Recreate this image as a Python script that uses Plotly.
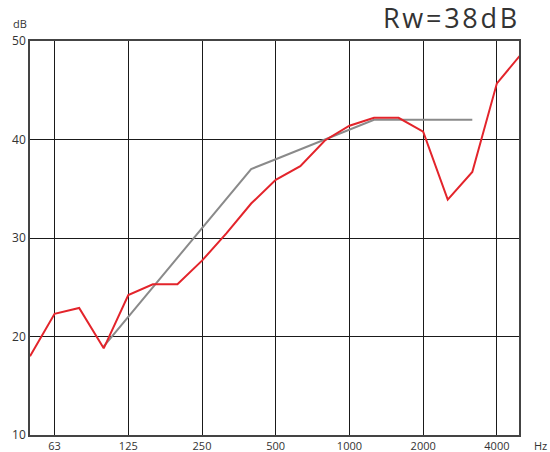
import plotly.graph_objects as go

# one-third octave bands 50 Hz .. 5000 Hz
bands = ["50", "63", "80", "100", "125", "160", "200", "250", "315", "400", "500",
         "630", "800", "1000", "1250", "1600", "2000", "2500", "3150", "4000", "5000"]
measured_db = [18.0, 22.3, 22.9, 18.8, 24.2, 25.3, 25.3, 27.7, 30.5, 33.5, 35.9,
               37.3, 39.9, 41.4, 42.2, 42.2, 40.8, 33.9, 36.7, 45.7, 48.7]
reference_bands = ["100", "125", "160", "200", "250", "315", "400", "500",
                   "630", "800", "1000", "1250", "1600", "2000", "2500", "3150"]
reference_db = [19, 22, 25, 28, 31, 34, 37, 38, 39, 40, 41, 42, 42, 42, 42, 42]
tick_labels = ["63", "125", "250", "500", "1000", "2000", "4000"]
y_ticks = [10, 20, 30, 40, 50]
title_text = "Rw=38dB"

idx = {b: i for i, b in enumerate(bands)}
x_meas = [idx[b] for b in bands]
x_ref = [idx[b] for b in reference_bands]
tick_vals = [idx[t] for t in tick_labels]

fig = go.Figure()
fig.add_trace(go.Scatter(x=x_ref, y=reference_db, mode="lines",
                         line=dict(color="#8a8a8a", width=2), showlegend=False))
fig.add_trace(go.Scatter(x=x_meas, y=measured_db, mode="lines",
                         line=dict(color="#e3242b", width=2), showlegend=False))

font = "Open Sans, Noto Sans, sans-serif"
fig.update_layout(
    width=550, height=452,
    margin=dict(l=30, r=31, t=41, b=17),
    paper_bgcolor="white", plot_bgcolor="white",
    font=dict(family=font, size=12, color="#333333"),
    xaxis=dict(range=[0, 19.9], tickmode="array", tickvals=tick_vals,
               ticktext=tick_labels, showgrid=True, gridcolor="#1a1a1a",
               gridwidth=1.3, zeroline=False, showline=True, linecolor="#444444",
               linewidth=1.5, mirror=True, ticks="", automargin=False,
               ticklabelstandoff=0,
               tickfont=dict(size=11, color="#333333")),
    yaxis=dict(range=[10, 50], tickmode="array", tickvals=y_ticks,
               showgrid=True, gridcolor="#1a1a1a", gridwidth=1.3, zeroline=False,
               showline=True, linecolor="#444444", linewidth=1.5, mirror=True,
               ticks="", automargin=False, tickfont=dict(size=12, color="#333333")),
    annotations=[
        dict(text="dB", xref="paper", yref="paper", x=-0.02, y=1.0, yshift=18,
             xanchor="center", yanchor="middle", showarrow=False,
             font=dict(size=11, color="#333333")),
        dict(text="Hz", xref="paper", yref="paper", x=1.0, y=0, xshift=21, yshift=-10,
             xanchor="center", yanchor="middle", showarrow=False,
             font=dict(size=11, color="#333333")),
        dict(text="\u200a".join(title_text), xref="paper", yref="paper", x=1.0, y=1.0,
             yshift=3, xanchor="right", yanchor="bottom", showarrow=False,
             font=dict(size=27, color="#333333")),
    ],
)
fig.write_html("out.html", config={"displayModeBar": False},
               post_script="document.body.style.margin='0px';")
